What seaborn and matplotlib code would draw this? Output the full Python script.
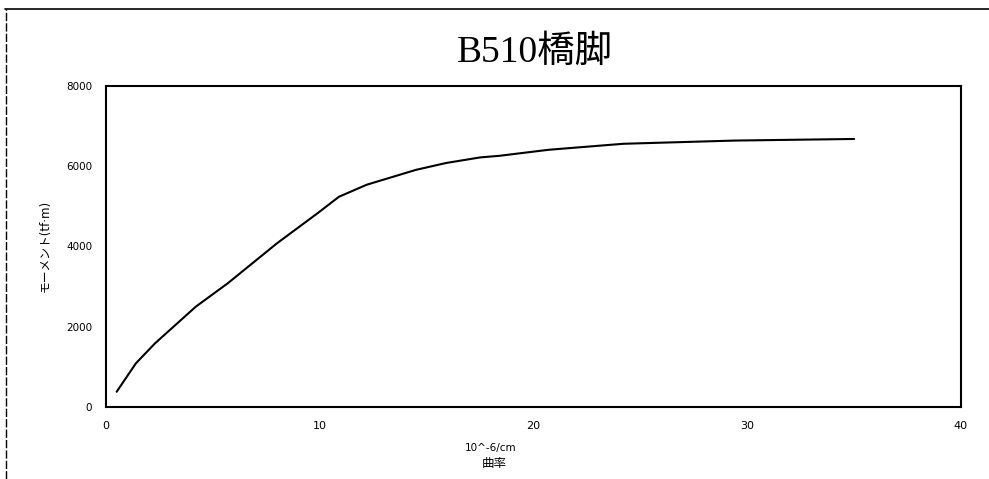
import matplotlib
matplotlib.use("Agg")
import matplotlib.pyplot as plt
from matplotlib.lines import Line2D
import seaborn as sns
import pandas as pd

# Moment-curvature relation of pier B510
curvature = [0.5, 1.4, 2.3, 4.2, 5.7, 8.0, 9.9, 10.9, 12.2, 14.5, 15.9,
             17.5, 18.4, 20.7, 24.2, 29.4, 35.0]
moment = [380, 1090, 1590, 2500, 3085, 4080, 4830, 5240, 5540, 5910, 6080,
          6220, 6260, 6410, 6560, 6640, 6680]
x_ticks = [0, 10, 20, 30, 40]
y_ticks = [0, 2000, 4000, 6000, 8000]

title = "B510橋脚"
y_label = "モーメント(tf·m)"
x_unit = "10^-6/cm"
x_label = "曲率"

sns.set_style("white")
plt.rcParams["font.family"] = ["DejaVu Sans", "Noto Sans CJK JP"]
plt.rcParams["text.color"] = "black"

df = pd.DataFrame({"curvature": curvature, "moment": moment})

fig = plt.figure(figsize=(9.89, 4.79), dpi=100)
ax = fig.add_axes([106 / 989, 1 - 407 / 479, (961 - 106) / 989, (407 - 86) / 479])

sns.lineplot(data=df, x="curvature", y="moment", sort=False, estimator=None,
             color="black", linewidth=1.5, ax=ax)

ax.set_xlim(0, 40)
ax.set_ylim(0, 8000)
ax.set_xticks(x_ticks)
ax.set_yticks(y_ticks)
ax.set_xticklabels([str(v) for v in x_ticks], fontsize=8)
ax.set_yticklabels([str(v) for v in y_ticks], fontsize=7.5)
ax.tick_params(axis="both", direction="in", length=5, width=1.2,
               colors="black", labelcolor="black")
ax.tick_params(axis="x", pad=10)
ax.tick_params(axis="y", pad=10)
for s in ax.spines.values():
    s.set_color("black")
    s.set_linewidth(1.5)
ax.set_xlabel("")
ax.set_ylabel("")

# title and axis captions
fig.text(535 / 989, 1 - 62 / 479, title, ha="center", va="baseline",
         fontsize=27, color="black",
         family=["Liberation Serif", "Noto Sans CJK JP"])
fig.text(45 / 989, 1 - 246 / 479, y_label, ha="center", va="center",
         rotation=90, fontsize=8.5, color="black")
fig.text(491 / 989, 1 - 448 / 479, x_unit, ha="center", va="center",
         fontsize=7.5, color="black")
fig.text(494 / 989, 1 - 463 / 479, x_label, ha="center", va="center",
         fontsize=9, color="black")

# page frame
fig.add_artist(Line2D([5 / 989, 1.0], [1 - 9 / 479, 1 - 9 / 479],
                      transform=fig.transFigure, color="black", linewidth=1.2))
fig.add_artist(Line2D([6 / 989, 6 / 989], [0.0, 1 - 9 / 479],
                      transform=fig.transFigure, color="black", linewidth=1.0,
                      linestyle=(0, (6, 1.5))))

fig.savefig("out.png", dpi=100)
